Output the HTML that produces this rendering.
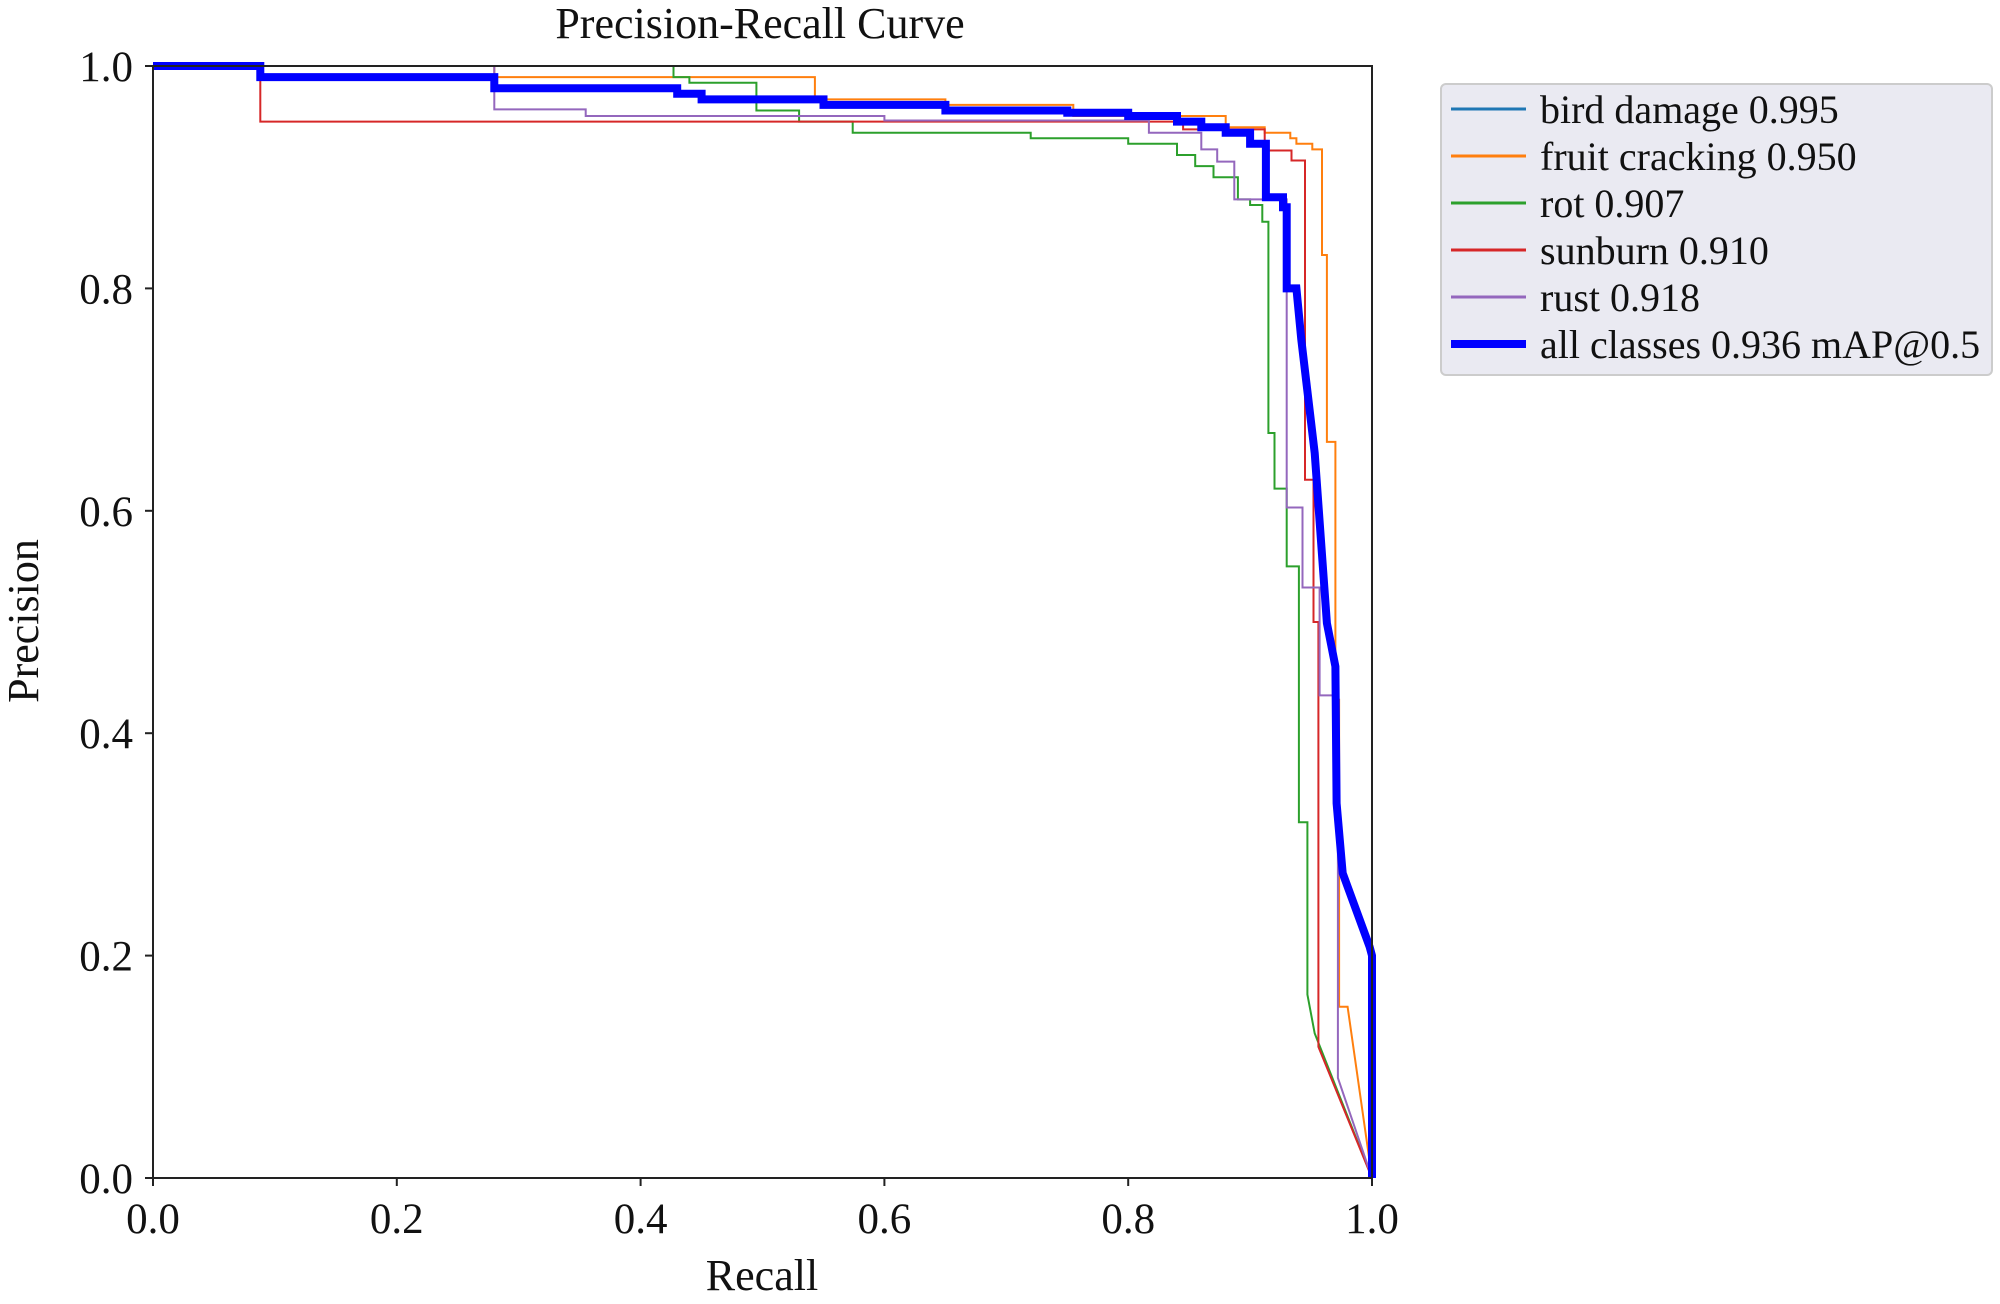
<!DOCTYPE html>
<html><head><meta charset="utf-8"><style>
html,body{margin:0;padding:0;background:#fff;}
svg text{font-family:"Liberation Serif","DejaVu Serif",serif;fill:#111;}
</style></head><body>
<svg id="chart" width="2000" height="1299" viewBox="0 0 2000 1299" xmlns="http://www.w3.org/2000/svg">
<rect width="2000" height="1299" fill="#fff"/>
<text x="760" y="38" font-size="44" text-anchor="middle">Precision-Recall Curve</text>
<text x="762" y="1290" font-size="44" text-anchor="middle">Recall</text>
<text transform="translate(38,621) rotate(-90)" font-size="44" text-anchor="middle">Precision</text>
<g id="ticks"></g>
<g id="series"></g>
<rect x="153" y="66" width="1219" height="1112" fill="none" stroke="#222" stroke-width="2"/>
<g id="legend"></g>
</svg>
<script>
const xTicks=[0,0.2,0.4,0.6,0.8,1.0];
const yTicks=[0,0.2,0.4,0.6,0.8,1.0];
const names=["bird damage 0.995","fruit cracking 0.950","rot 0.907","sunburn 0.910","rust 0.918","all classes 0.936 mAP@0.5"];
const colors=["#1f77b4","#ff7f0e","#2ca02c","#d62728","#9467bd","#0000ff"];
const birdR=[0,1,1];
const birdP=[1,1,0];
const fruitR=[0,0.28,0.28,0.543,0.543,0.65,0.65,0.755,0.755,0.88,0.88,0.912,0.912,0.933,0.933,0.938,0.938,0.951,0.951,0.959,0.959,0.963,0.963,0.970,0.970,0.973,0.973,0.98,1];
const fruitP=[1,1,0.99,0.99,0.97,0.97,0.965,0.965,0.955,0.955,0.945,0.945,0.94,0.94,0.935,0.935,0.93,0.93,0.925,0.925,0.83,0.83,0.662,0.662,0.43,0.43,0.154,0.154,0];
const rotR=[0,0.427,0.427,0.44,0.44,0.495,0.495,0.53,0.53,0.574,0.574,0.72,0.72,0.8,0.8,0.84,0.84,0.855,0.855,0.87,0.87,0.89,0.89,0.9,0.9,0.91,0.91,0.915,0.915,0.92,0.92,0.93,0.93,0.94,0.94,0.947,0.947,0.953,1];
const rotP=[1,1,0.99,0.99,0.985,0.985,0.96,0.96,0.95,0.95,0.94,0.94,0.935,0.935,0.93,0.93,0.92,0.92,0.91,0.91,0.90,0.90,0.88,0.88,0.875,0.875,0.86,0.86,0.67,0.67,0.62,0.62,0.55,0.55,0.32,0.32,0.165,0.13,0];
const sunR=[0,0.088,0.088,0.845,0.845,0.912,0.912,0.934,0.934,0.945,0.945,0.952,0.952,0.956,0.956,1];
const sunP=[1,1,0.95,0.95,0.943,0.943,0.924,0.924,0.915,0.915,0.628,0.628,0.5,0.5,0.118,0];
const rustR=[0,0.28,0.28,0.355,0.355,0.6,0.6,0.817,0.817,0.86,0.86,0.873,0.873,0.887,0.887,0.93,0.93,0.943,0.943,0.957,0.957,0.972,0.972,1];
const rustP=[1,1,0.961,0.961,0.955,0.955,0.951,0.951,0.94,0.94,0.925,0.925,0.914,0.914,0.88,0.88,0.603,0.603,0.531,0.531,0.434,0.434,0.09,0];
const allR=[0,0.088,0.088,0.28,0.28,0.43,0.43,0.45,0.45,0.55,0.55,0.65,0.65,0.75,0.75,0.8,0.8,0.84,0.84,0.86,0.86,0.88,0.88,0.9,0.9,0.913,0.913,0.927,0.927,0.93,0.93,0.938,0.942,0.953,0.963,0.97,0.971,0.976,0.998,1,1];
const allP=[1,1,0.99,0.99,0.98,0.98,0.975,0.975,0.97,0.97,0.965,0.965,0.96,0.96,0.958,0.958,0.955,0.955,0.95,0.95,0.945,0.945,0.94,0.94,0.93,0.93,0.882,0.882,0.873,0.873,0.80,0.80,0.754,0.652,0.499,0.46,0.337,0.274,0.208,0.2,0];
const seriesR=[birdR,fruitR,rotR,sunR,rustR,allR];
const seriesP=[birdP,fruitP,rotP,sunP,rustP,allP];
const X0=153,X1=1372,Y0=1178,Y1=66;
function sx(v){return X0+v*(X1-X0);}
function sy(v){return Y0-v*(Y0-Y1);}
const NS="http://www.w3.org/2000/svg";
const tg=document.getElementById('ticks');
xTicks.forEach(t=>{
  const l=document.createElementNS(NS,'line');
  l.setAttribute('x1',sx(t));l.setAttribute('x2',sx(t));l.setAttribute('y1',Y0);l.setAttribute('y2',Y0+8);
  l.setAttribute('stroke','#222');l.setAttribute('stroke-width','2');
  
  
  tg.appendChild(l);
  const tx=document.createElementNS(NS,'text');
  tx.setAttribute('x',sx(t));tx.setAttribute('y',Y0+55);tx.setAttribute('font-size','43');tx.setAttribute('text-anchor','middle');
  tx.textContent=t.toFixed(1);
  
  
  tg.appendChild(tx);
});
yTicks.forEach(t=>{
  const l=document.createElementNS(NS,'line');
  l.setAttribute('x1',X0-8);l.setAttribute('x2',X0);l.setAttribute('y1',sy(t));l.setAttribute('y2',sy(t));
  l.setAttribute('stroke','#222');l.setAttribute('stroke-width','2');
  
  
  tg.appendChild(l);
  const tx=document.createElementNS(NS,'text');
  tx.setAttribute('x',X0-20);tx.setAttribute('y',sy(t)+15);tx.setAttribute('font-size','43');tx.setAttribute('text-anchor','end');
  tx.textContent=t.toFixed(1);
  
  
  tg.appendChild(tx);
});
const sg=document.getElementById('series');
seriesR.forEach((rs,i)=>{
  const pts=rs.map((r,j)=>sx(r).toFixed(1)+','+sy(seriesP[i][j]).toFixed(1)).join(' ');
  const pl=document.createElementNS(NS,'polyline');
  pl.setAttribute('points',pts);pl.setAttribute('fill','none');
  pl.setAttribute('stroke',colors[i]);pl.setAttribute('stroke-width',i===5?'8':'2');
  pl.setAttribute('stroke-linejoin','miter');
  
  
  sg.appendChild(pl);
});
const lg=document.getElementById('legend');
const box=document.createElementNS(NS,'rect');
box.setAttribute('x',1441);box.setAttribute('y',84);box.setAttribute('width',551);box.setAttribute('height',291);
box.setAttribute('rx',5);box.setAttribute('fill','#eaeaf2');box.setAttribute('stroke','#cccccc');box.setAttribute('stroke-width','2');


lg.appendChild(box);
names.forEach((n,i)=>{
  const y=109+i*47;
  const l=document.createElementNS(NS,'line');
  l.setAttribute('x1',1451);l.setAttribute('x2',1526);l.setAttribute('y1',y);l.setAttribute('y2',y);
  l.setAttribute('stroke',colors[i]);l.setAttribute('stroke-width',i===5?'8':'3');
  
  
  lg.appendChild(l);
  const t=document.createElementNS(NS,'text');
  t.setAttribute('x',1540);t.setAttribute('y',y+14);t.setAttribute('font-size','40');
  t.textContent=n;
  
  
  lg.appendChild(t);
});
</script>
</body></html>
